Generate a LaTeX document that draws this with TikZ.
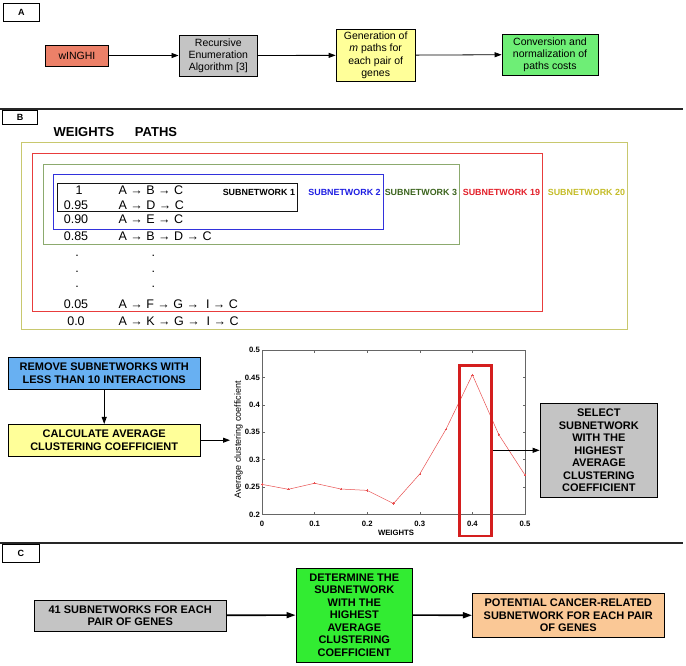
\documentclass[tikz,border=0pt]{standalone}
\usepackage{fontspec}
\setmainfont{Liberation Sans}
\usetikzlibrary{arrows.meta}

\definecolor{salmon}{RGB}{236,128,104}
\definecolor{boxgray}{RGB}{196,196,196}
\definecolor{paleyellow}{RGB}{255,255,153}
\definecolor{palegreen}{RGB}{110,238,118}
\definecolor{skyblue}{RGB}{104,176,242}
\definecolor{limegreen}{RGB}{50,236,50}
\definecolor{peach}{RGB}{250,200,150}
\definecolor{frame20}{RGB}{200,200,110}
\definecolor{frame19}{RGB}{232,60,60}
\definecolor{frame3}{RGB}{140,170,110}
\definecolor{frame2}{RGB}{50,50,220}
\definecolor{frame1}{RGB}{20,20,20}
\definecolor{text20}{RGB}{196,188,40}
\definecolor{text19}{RGB}{226,30,40}
\definecolor{text3}{RGB}{60,100,30}
\definecolor{text2}{RGB}{30,30,226}
\definecolor{text1}{RGB}{0,0,0}
\definecolor{curvered}{RGB}{232,80,80}
\definecolor{hired}{RGB}{212,30,30}

\begin{document}
\begin{tikzpicture}[x=1pt, y=-1pt,
    box/.style={draw, line width=0.8pt, inner sep=0pt, align=center},
    small/.style={font=\fontsize{10.5}{12.2}\selectfont},
    caps/.style={font=\bfseries\fontsize{11}{12.5}\selectfont},
    hdr/.style={draw, line width=0.8pt, fill=white, minimum width=36, minimum height=18, inner sep=0pt, font=\bfseries\fontsize{9}{10}\selectfont},
    flow/.style={-{Triangle[length=7pt,width=5pt]}, line width=0.8pt},
    bigflow/.style={-{Triangle[length=9pt,width=6pt]}, line width=1.6pt},
    sepline/.style={line width=2pt, black!85},
    frame/.style={line width=0.9pt},
    sublab/.style={font=\bfseries\fontsize{8.9}{10}\selectfont, inner sep=0pt},
    row/.style={font=\fontsize{12.5}{14}\selectfont, inner sep=0pt},
    axis/.style={line width=0.5pt, black!60},
    ticklab/.style={font=\bfseries\fontsize{7.7}{9}\selectfont, inner sep=0pt},
    curve/.style={curvered, line width=0.5pt, mark=+, mark size=1.2pt}]

    \useasboundingbox (0,0) rectangle (686,666);

    % section A
    \node[hdr] (hdra) at (21.3,12.7) {A};
    \foreach \n/\x/\y/\w/\h/\c/\t in {
        winghi/76.9/55.5/63.7/21/salmon/{wINGHI},
        recursive/218.3/55.5/78.7/41/boxgray/{Recursive\\Enumeration\\Algorithm [3]},
        generation/375.7/55.3/79.3/52.7/paleyellow/{Generation of\\\textit{m} paths for\\each pair of\\genes},
        conversion/550/54.5/96/41/palegreen/{Conversion and\\normalization of\\paths costs}}
        \node[box, small, fill=\c, minimum width=\w, minimum height=\h] (\n) at (\x,\y) {\t};
    \foreach \i/\j in {winghi/recursive, recursive/generation, generation/conversion}
        \draw[flow] (\i) -- (\j);

    \draw[sepline] (0,109.3) -- (683,109.3);

    % section B: nested subnetworks
    \node[hdr, minimum width=34.6, minimum height=14] (hdrb) at (20,117.5) {B};
    \node[font=\bfseries\fontsize{13}{14}\selectfont, inner sep=0pt] (weights) at (84,132) {WEIGHTS};
    \node[font=\bfseries\fontsize{13}{14}\selectfont, inner sep=0pt] (paths) at (156,132) {PATHS};

    \foreach \t/\xa/\ya/\xb/\yb in {20/21.7/142.7/627.7/329, 19/32.3/153.3/542.7/311.7,
        3/43.3/164/459.7/244, 2/53.3/174.3/383.3/229, 1/57.7/183.3/297.7/211.7} {
        \draw[frame, draw=frame\t] (\xa,\ya) rectangle (\xb,\yb);
        \node[sublab, text=text\t, anchor=east] (lab\t) at (\xb-2.5,192.7) {SUBNETWORK \t};
    }

    \foreach \w/\x/\p/\y [count=\i] in {1/79/{A → B → C}/190, 0.95/76/{A → D → C}/204.8,
        0.90/76/{A → E → C}/219.6, 0.85/76/{A → B → D → C}/236.5,
        ./77/./256, ./77/./272.3, ./77/./287.3,
        0.05/76/{A → F → G → ~I → C}/304.5, 0.0/76/{A → K → G → ~I → C}/320.7} {
        \node[row] (w\i) at (\x,\y) {\w};
        \ifnum\i>4 \ifnum\i<8
            \node[row] (p\i) at (153.3,\y) {\p};
        \else
            \node[row, anchor=west] (p\i) at (118.3,\y) {\p};
        \fi \else
            \node[row, anchor=west] (p\i) at (118.3,\y) {\p};
        \fi
    }

    % section B: selection
    \node[box, caps, fill=skyblue, minimum width=191.7, minimum height=31.3] (remove) at (104.2,373.3)
        {REMOVE SUBNETWORKS WITH\\LESS THAN 10 INTERACTIONS};
    \node[box, caps, fill=paleyellow, minimum width=191.7, minimum height=31.7] (calc) at (104.2,440.2)
        {CALCULATE AVERAGE\\CLUSTERING COEFFICIENT};
    \coordinate (plotin) at (230,440.2);
    \draw[flow] (remove) -- (calc);
    \draw[flow] (calc) -- (plotin);

    % plot
    \begin{scope}[shift={(262,514.5)}, x=526pt, y=548pt]
        \draw[axis] (0,0) rectangle (0.5,0.3);
        \foreach \v [count=\i] in {0,0.1,0.2,0.3,0.4,0.5} {
            \draw[axis] (\v,0) -- ++(0pt,2.5pt) (\v,0.3) -- ++(0pt,-2.5pt);
            \node[ticklab, anchor=north, yshift=-6pt] (xt\i) at (\v,0) {\v};
        }
        \foreach \v/\t [count=\i] in {0/0.2, 0.05/0.25, 0.1/0.3, 0.15/0.35, 0.2/0.4, 0.25/0.45, 0.3/0.5} {
            \draw[axis] (0,\v) -- ++(2.5pt,0pt) (0.5,\v) -- ++(-2.5pt,0pt);
            \node[ticklab, anchor=east, xshift=-2pt] (yt\i) at (0,\v) {\t};
        }
        \draw[curve] plot coordinates {(0,0.055) (0.05,0.046) (0.1,0.057) (0.15,0.0465)
            (0.2,0.044) (0.25,0.020) (0.3,0.074) (0.35,0.156) (0.4,0.255) (0.45,0.146) (0.5,0.072)};
    \end{scope}
    \node[font=\fontsize{9}{10}\selectfont, rotate=90, inner sep=0pt] (ylab) at (238.5,440) {Average clustering coefficient};
    \node[ticklab] (xlab) at (396,532.7) {WEIGHTS};

    \node[draw=hired, line width=2.6pt, minimum width=32.4, minimum height=170.3, inner sep=0pt] (hilite) at (475.5,450.85) {};
    \node[box, caps, fill=boxgray, minimum width=117.7, minimum height=94] (select) at (598.85,450.3)
        {SELECT\\SUBNETWORK\\WITH THE\\HIGHEST\\AVERAGE\\CLUSTERING\\COEFFICIENT};
    \draw[flow] (hilite.east |- select.west) -- (select.west);

    \draw[sepline] (0,542.7) -- (683,542.7);

    % section C
    \node[hdr, minimum width=36.3] (hdrc) at (20.9,553) {C};
    \foreach \n/\x/\y/\w/\h/\c/\t in {
        subnets/130.2/615.5/191.7/31/boxgray/{41 SUBNETWORKS FOR EACH\\PAIR OF GENES},
        determine/354.3/615/116.7/94/limegreen/{DETERMINE THE\\SUBNETWORK\\WITH THE\\HIGHEST\\AVERAGE\\CLUSTERING\\COEFFICIENT},
        potential/568.2/615.5/191.7/44.4/peach/{POTENTIAL CANCER-RELATED\\SUBNETWORK FOR EACH PAIR\\OF GENES}}
        \node[box, caps, fill=\c, minimum width=\w, minimum height=\h] (\n) at (\x,\y) {\t};
    \foreach \i/\j in {subnets/determine, determine/potential}
        \draw[bigflow] (\i) -- (\j);

\end{tikzpicture}
\end{document}
